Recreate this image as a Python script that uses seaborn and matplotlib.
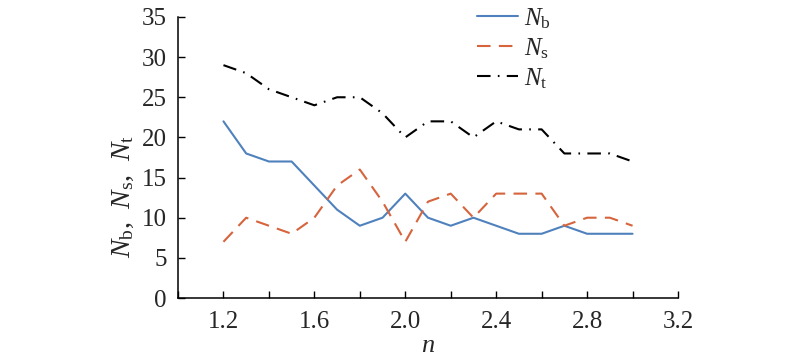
import numpy as np
import pandas as pd
import matplotlib
matplotlib.use("Agg")
import matplotlib.pyplot as plt
import seaborn as sns

# data
n_vals = [1.2, 1.3, 1.4, 1.5, 1.6, 1.7, 1.8, 1.9, 2.0, 2.1,
          2.2, 2.3, 2.4, 2.5, 2.6, 2.7, 2.8, 2.9, 3.0]
Nb = [22, 18, 17, 17, 14, 11, 9, 10, 13, 10, 9, 10, 9, 8, 8, 9, 8, 8, 8]
Ns = [7, 10, 9, 8, 10, 14, 16, 12, 7, 12, 13, 10, 13, 13, 13, 9, 10, 10, 9]
Nt = [29, 28, 26, 25, 24, 25, 25, 23, 20, 22, 22, 20, 22, 21, 21, 18, 18, 18, 17]

labels = [r"$N_{\rm b}$", r"$N_{\rm s}$", r"$N_{\rm t}$"]
x_ticks = [1.2, 1.6, 2.0, 2.4, 2.8, 3.2]
y_ticks = [0, 5, 10, 15, 20, 25, 30, 35]

sns.set_style("ticks")
plt.rcParams["font.family"] = ["Liberation Serif", "DejaVu Serif"]
plt.rcParams["mathtext.fontset"] = "custom"
plt.rcParams["mathtext.rm"] = "Liberation Serif"
plt.rcParams["mathtext.it"] = "Liberation Serif:italic"

df = pd.DataFrame({"n": n_vals, "Nb": Nb, "Ns": Ns, "Nt": Nt})

fig = plt.figure(figsize=(8, 3.61), dpi=100)
ax = fig.add_axes([0.2225, 0.1745, 0.625, 0.7785])

sns.lineplot(data=df, x="n", y="Nb", ax=ax, color="#4f81bd", lw=1.5, label=labels[0])
sns.lineplot(data=df, x="n", y="Ns", ax=ax, color="#d6643c", lw=1.5, label=labels[1])
sns.lineplot(data=df, x="n", y="Nt", ax=ax, color="black", lw=1.5, label=labels[2])
ax.lines[1].set_dashes((6.5, 4))
ax.lines[2].set_dashes((6.5, 3.5, 0.8, 3.5))

ax.set_xlim(1.0, 3.2)
ax.set_ylim(0, 35)
ax.set_xticks(np.arange(1.0, 3.21, 0.2), minor=True)
ax.set_xticks(x_ticks)
ax.set_xticklabels(["%.1f" % t for t in x_ticks])
ax.set_yticks(y_ticks)
ax.tick_params(axis="both", which="both", direction="in", length=5, width=1,
               labelsize=18, color="black")
ax.tick_params(axis="x", which="both", pad=9)
ax.tick_params(axis="y", which="both", pad=8)
for s in ["top", "right"]:
    ax.spines[s].set_visible(False)
for s in ["left", "bottom"]:
    ax.spines[s].set_linewidth(1.1)
    ax.spines[s].set_color("black")

ax.set_xlabel(r"$n$", fontsize=19, labelpad=2)
ax.set_ylabel(r"$N_{\rm b}$,  $N_{\rm s}$,  $N_{\rm t}$", fontsize=20)
ax.yaxis.set_label_coords(-0.085, 0.36)

ax.get_legend().remove()
h, l = ax.get_legend_handles_labels()
fig.legend(h, l, loc="center", bbox_to_anchor=(0.6425, 0.866), frameon=False,
           fontsize=18, handlelength=1.65, handletextpad=0.25, labelspacing=0.22,
           borderpad=0)

fig.savefig("out.png", dpi=100)
